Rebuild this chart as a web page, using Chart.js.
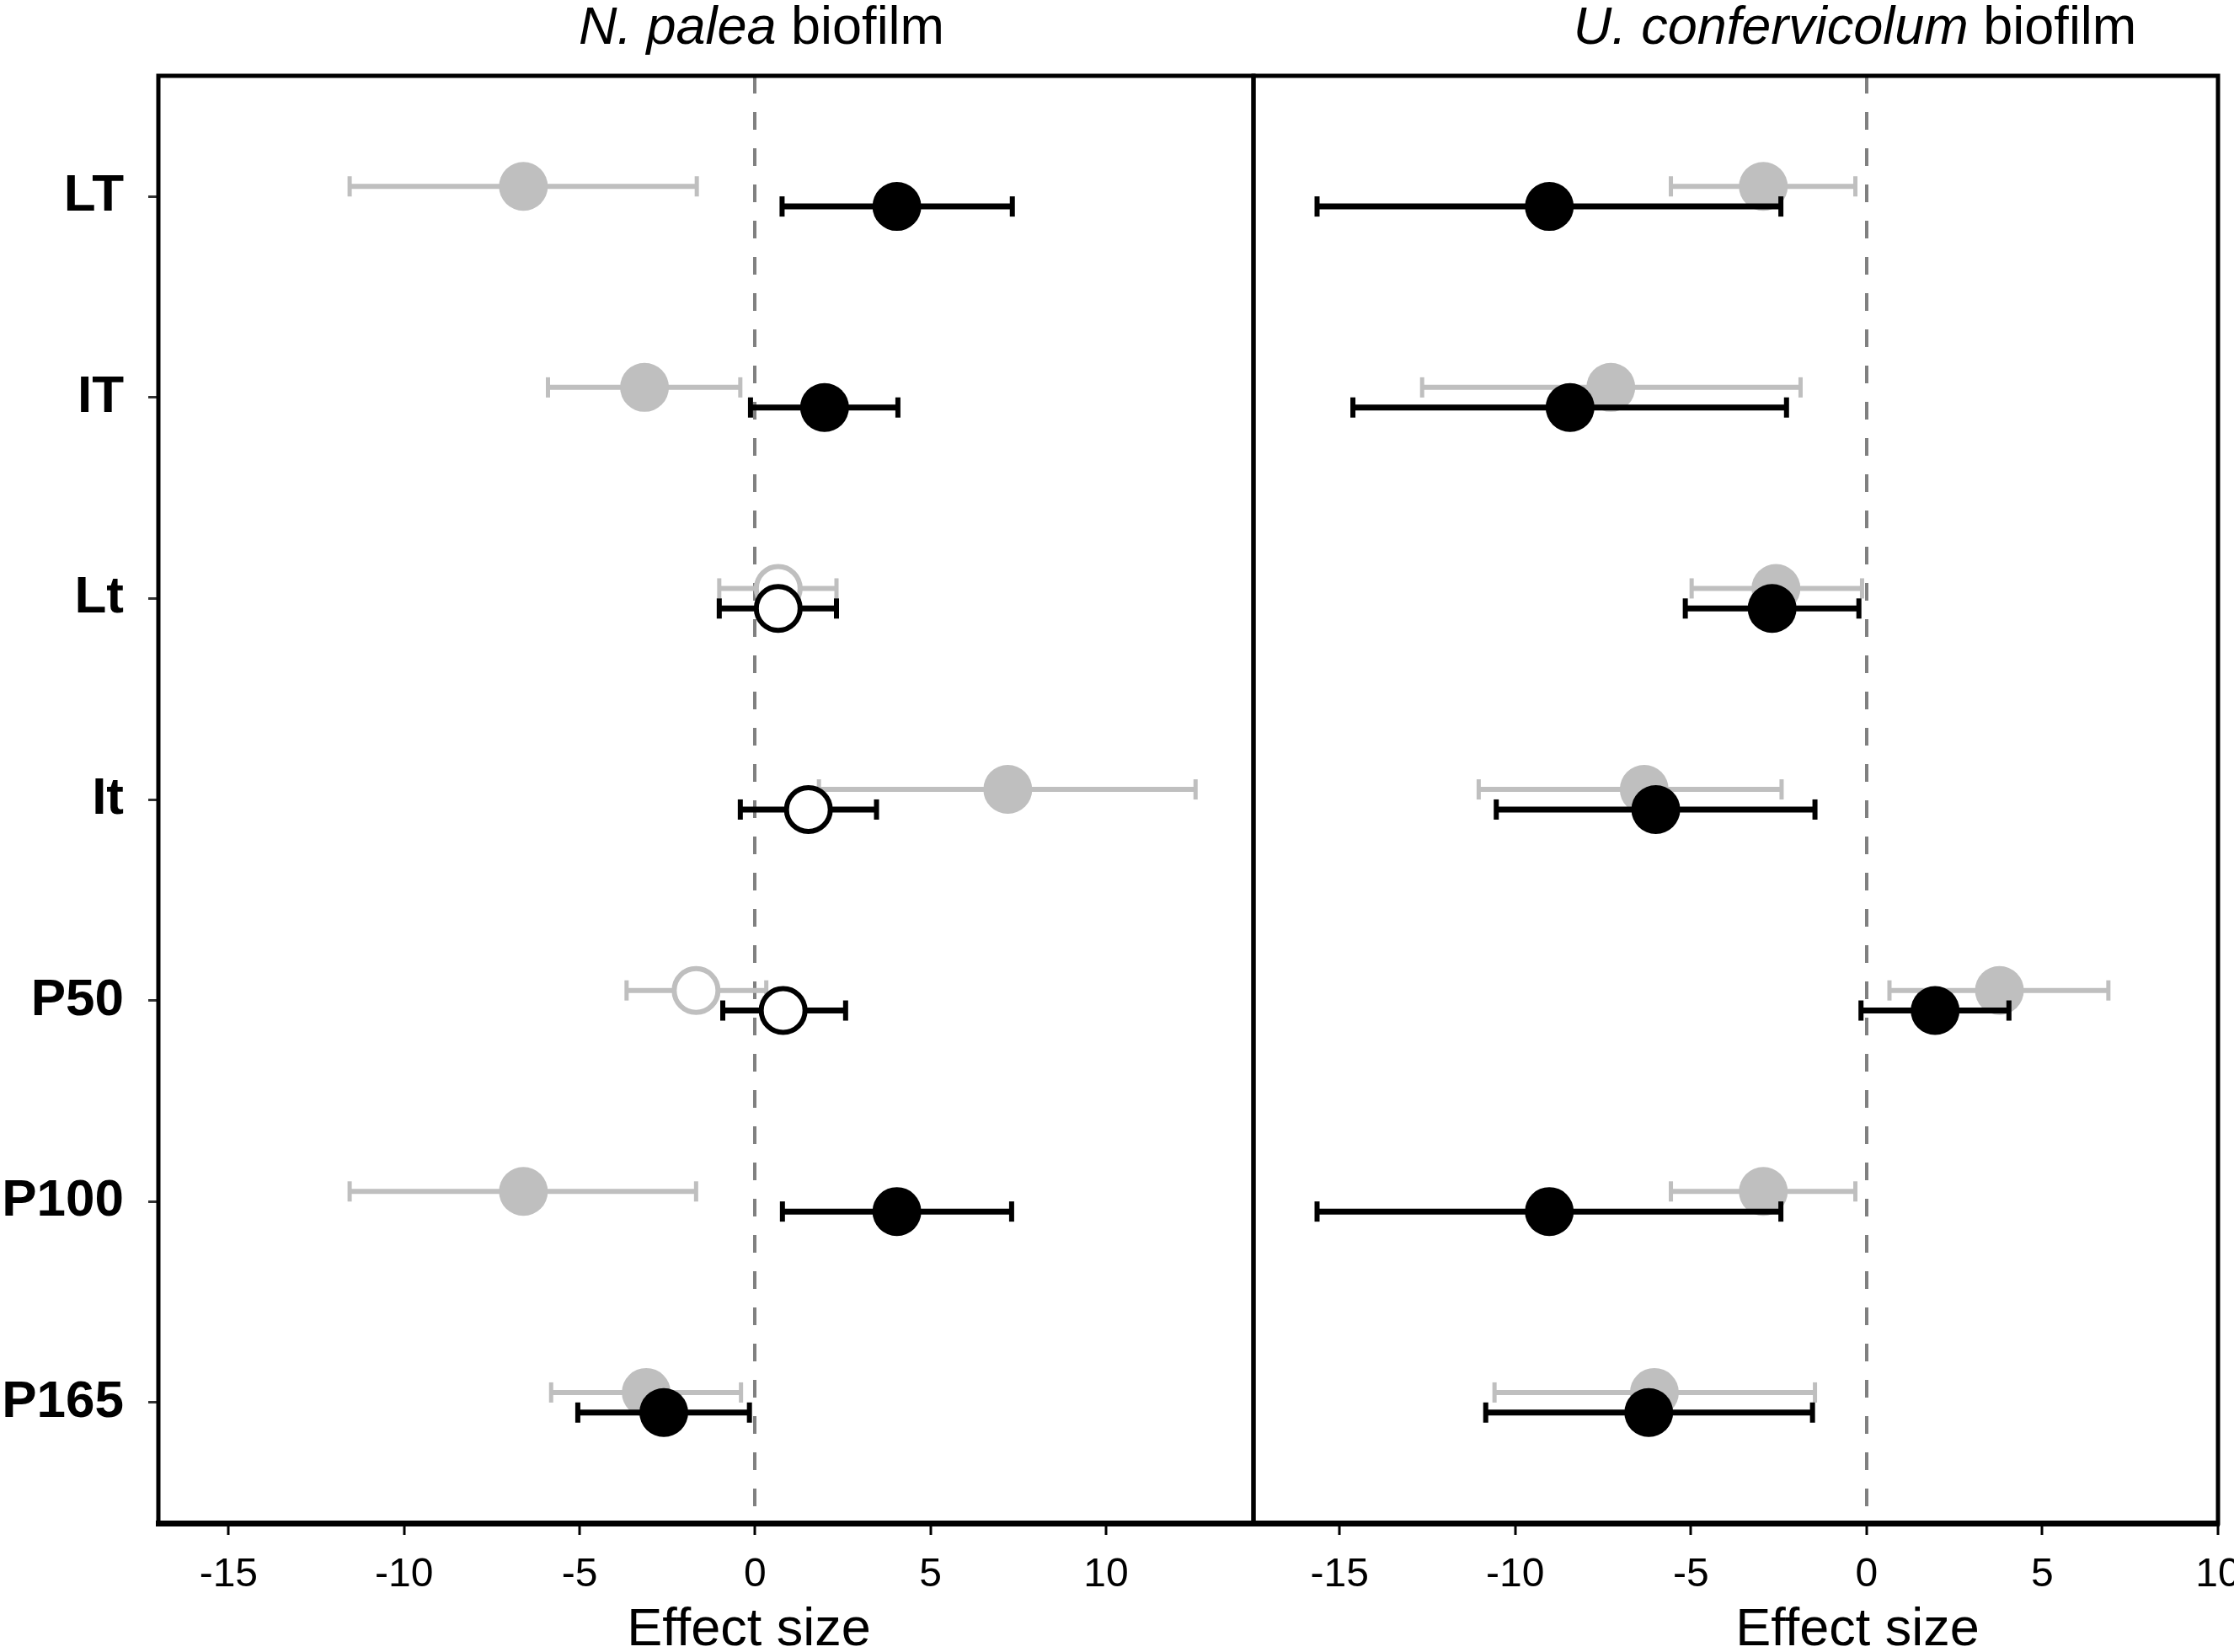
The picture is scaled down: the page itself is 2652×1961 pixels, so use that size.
<!DOCTYPE html>
<html lang="en">

<head>
    <meta charset="UTF-8">
    <title>Effect size - biofilm</title>
    <script src="https://cdn.jsdelivr.net/npm/chart.js"></script>
    <style>
        html,
        body {
            margin: 0;
            padding: 0;
            background: #fff;
            width: 2652px;
            height: 1961px;
            overflow: hidden;
        }

        .panel {
            position: absolute;
            top: 0;
            height: 1961px;
        }

        .txt {
            position: absolute;
            font-family: "Liberation Sans", Arial, sans-serif;
            font-size: 63px;
            line-height: 1;
            white-space: nowrap;
            color: #000;
            transform: translateX(-50%);
        }
    </style>
</head>

<body>

    <div class="panel" style="left:0;width:1492px"><canvas id="paleaChart"></canvas></div>
    <div class="panel" style="left:1484px;width:1220px"><canvas id="confChart"></canvas></div>

    <div class="txt" style="left:904px;top:-1px"><i>N. palea</i> biofilm</div>
    <div class="txt" style="left:2202px;top:-1px"><i>U. confervicolum</i> biofilm</div>
    <div class="txt" style="left:889px;top:1900px">Effect size</div>
    <div class="txt" style="left:2205px;top:1900px">Effect size</div>

    <script>
        const treatments = ["LT", "IT", "Lt", "It", "P50", "P100", "P165"]
        const xTicks = [-15, -10, -5, 0, 5, 10]

        // N. palea biofilm
        const paleaGreyMean = [-6.6, -3.15, 0.66, 7.2, -1.68, -6.6, -3.1]
        const paleaGreyLow = [-11.55, -5.9, -1.02, 1.82, -3.66, -11.55, -5.81]
        const paleaGreyHigh = [-1.66, -0.42, 2.32, 12.55, 0.32, -1.68, -0.4]
        const paleaGreyFilled = [true, true, false, true, false, true, true]
        const paleaBlackMean = [4.04, 1.98, 0.66, 1.52, 0.8, 4.04, -2.6]
        const paleaBlackLow = [0.77, -0.13, -1.02, -0.42, -0.92, 0.78, -5.05]
        const paleaBlackHigh = [7.33, 4.07, 2.32, 3.46, 2.58, 7.31, -0.16]
        const paleaBlackFilled = [true, true, false, false, false, true, true]

        // U. confervicolum biofilm
        const confGreyMean = [-2.94, -7.28, -2.58, -6.33, 3.78, -2.94, -6.04]
        const confGreyLow = [-5.57, -12.65, -4.98, -11.04, 0.65, -5.57, -10.59]
        const confGreyHigh = [-0.32, -1.88, -0.13, -2.42, 6.88, -0.32, -1.47]
        const confGreyFilled = [true, true, true, true, true, true, true]
        const confBlackMean = [-9.03, -8.44, -2.69, -6.0, 1.95, -9.03, -6.2]
        const confBlackLow = [-15.64, -14.62, -5.16, -10.54, -0.16, -15.64, -10.84]
        const confBlackHigh = [-2.44, -2.28, -0.22, -1.47, 4.05, -2.44, -1.54]
        const confBlackFilled = [true, true, true, true, true, true, true]

        const GREY = "#bfbfbf"
        const BLACK = "#000000"
        const FONT = "'Liberation Sans', Arial, sans-serif"

        // box around the plotting area
        const frame = {
            id: "frame",
            beforeDatasetsDraw(chart, args, opts) {
                const { ctx, chartArea: a } = chart
                ctx.save()
                ctx.strokeStyle = "#000"
                ctx.lineWidth = opts.width
                ctx.strokeRect(a.left, a.top, a.right - a.left, a.bottom - a.top)
                ctx.restore()
            }
        }

        function series(mean, low, high, filled, color, shift, order, barWidth) {
            let rows = treatments.map((t, i) => i + 1 + shift)
            let dots = {
                type: "line",
                showLine: false,
                data: rows.map((y, i) => ({ x: mean[i], y: y })),
                pointStyle: "circle",
                pointRadius: filled.map(f => f ? 29 : 26),
                pointBackgroundColor: filled.map(f => f ? color : "#ffffff"),
                pointBorderColor: color,
                pointBorderWidth: filled.map(f => f ? 0 : 6),
                order: order
            }
            let whiskers = {
                type: "line",
                data: rows.flatMap((y, i) => [{ x: low[i], y: y }, { x: high[i], y: y }, { x: null, y: null }]),
                spanGaps: false,
                borderColor: color,
                borderWidth: barWidth,
                pointStyle: "line",
                pointRotation: 90,
                pointRadius: 12,
                pointBorderWidth: barWidth - 1,
                pointBorderColor: color,
                pointBackgroundColor: color,
                order: order + 1
            }
            return [dots, whiskers]
        }

        function panel(id, datasets, xMin, xMax, withLabels) {
            new Chart(id, {
                type: "line",
                data: { datasets: datasets },
                plugins: [frame],
                options: {
                    responsive: true,
                    maintainAspectRatio: false,
                    animation: false,
                    devicePixelRatio: 1,
                    layout: {
                        autoPadding: false,
                        padding: withLabels ? { top: 90, left: 0, right: 4, bottom: 0 } : { top: 90, left: 4, right: 71, bottom: 0 }
                    },
                    plugins: {
                        legend: { display: false },
                        tooltip: { enabled: false },
                        frame: { width: 5 }
                    },
                    scales: {
                        x: {
                            type: "linear",
                            position: "bottom",
                            min: xMin,
                            max: xMax,
                            afterBuildTicks: s => { s.ticks = xTicks.map(v => ({ value: v })) },
                            afterFit: s => {
                                s.height = 153
                                s.paddingLeft = 0
                                s.paddingRight = 0
                            },
                            grid: {
                                color: c => c.tick && c.tick.value === 0 ? "#808080" : "rgba(0,0,0,0)",
                                lineWidth: 4,
                                drawTicks: true,
                                tickLength: 14,
                                tickColor: "#000",
                                tickWidth: 3
                            },
                            border: { display: true, color: "#000", width: 7, dash: [21, 22] },
                            ticks: {
                                color: "#000",
                                padding: 19,
                                font: { family: FONT, size: 48 }
                            }
                        },
                        y: {
                            type: "linear",
                            display: withLabels,
                            reverse: true,
                            min: 0.4,
                            max: 7.6,
                            afterBuildTicks: s => { s.ticks = treatments.map((t, i) => ({ value: i + 1 })) },
                            afterFit: s => { if (withLabels) s.width = 188 },
                            grid: {
                                drawOnChartArea: false,
                                drawTicks: true,
                                tickLength: 12,
                                tickColor: "#333",
                                tickWidth: 3
                            },
                            border: { display: false },
                            ticks: {
                                color: "#000",
                                padding: 29,
                                font: { family: FONT, size: 62, weight: "bold" },
                                callback: v => treatments[v - 1]
                            }
                        }
                    }
                }
            })
        }

        panel("paleaChart", [
            ...series(paleaBlackMean, paleaBlackLow, paleaBlackHigh, paleaBlackFilled, BLACK, 0.05, 0, 7),
            ...series(paleaGreyMean, paleaGreyLow, paleaGreyHigh, paleaGreyFilled, GREY, -0.05, 2, 6)
        ], -17, 14.2, true)

        panel("confChart", [
            ...series(confBlackMean, confBlackLow, confBlackHigh, confBlackFilled, BLACK, 0.05, 0, 7),
            ...series(confGreyMean, confGreyLow, confGreyHigh, confGreyFilled, GREY, -0.05, 2, 6)
        ], -17.45, 10, false)
    </script>
</body>

</html>
